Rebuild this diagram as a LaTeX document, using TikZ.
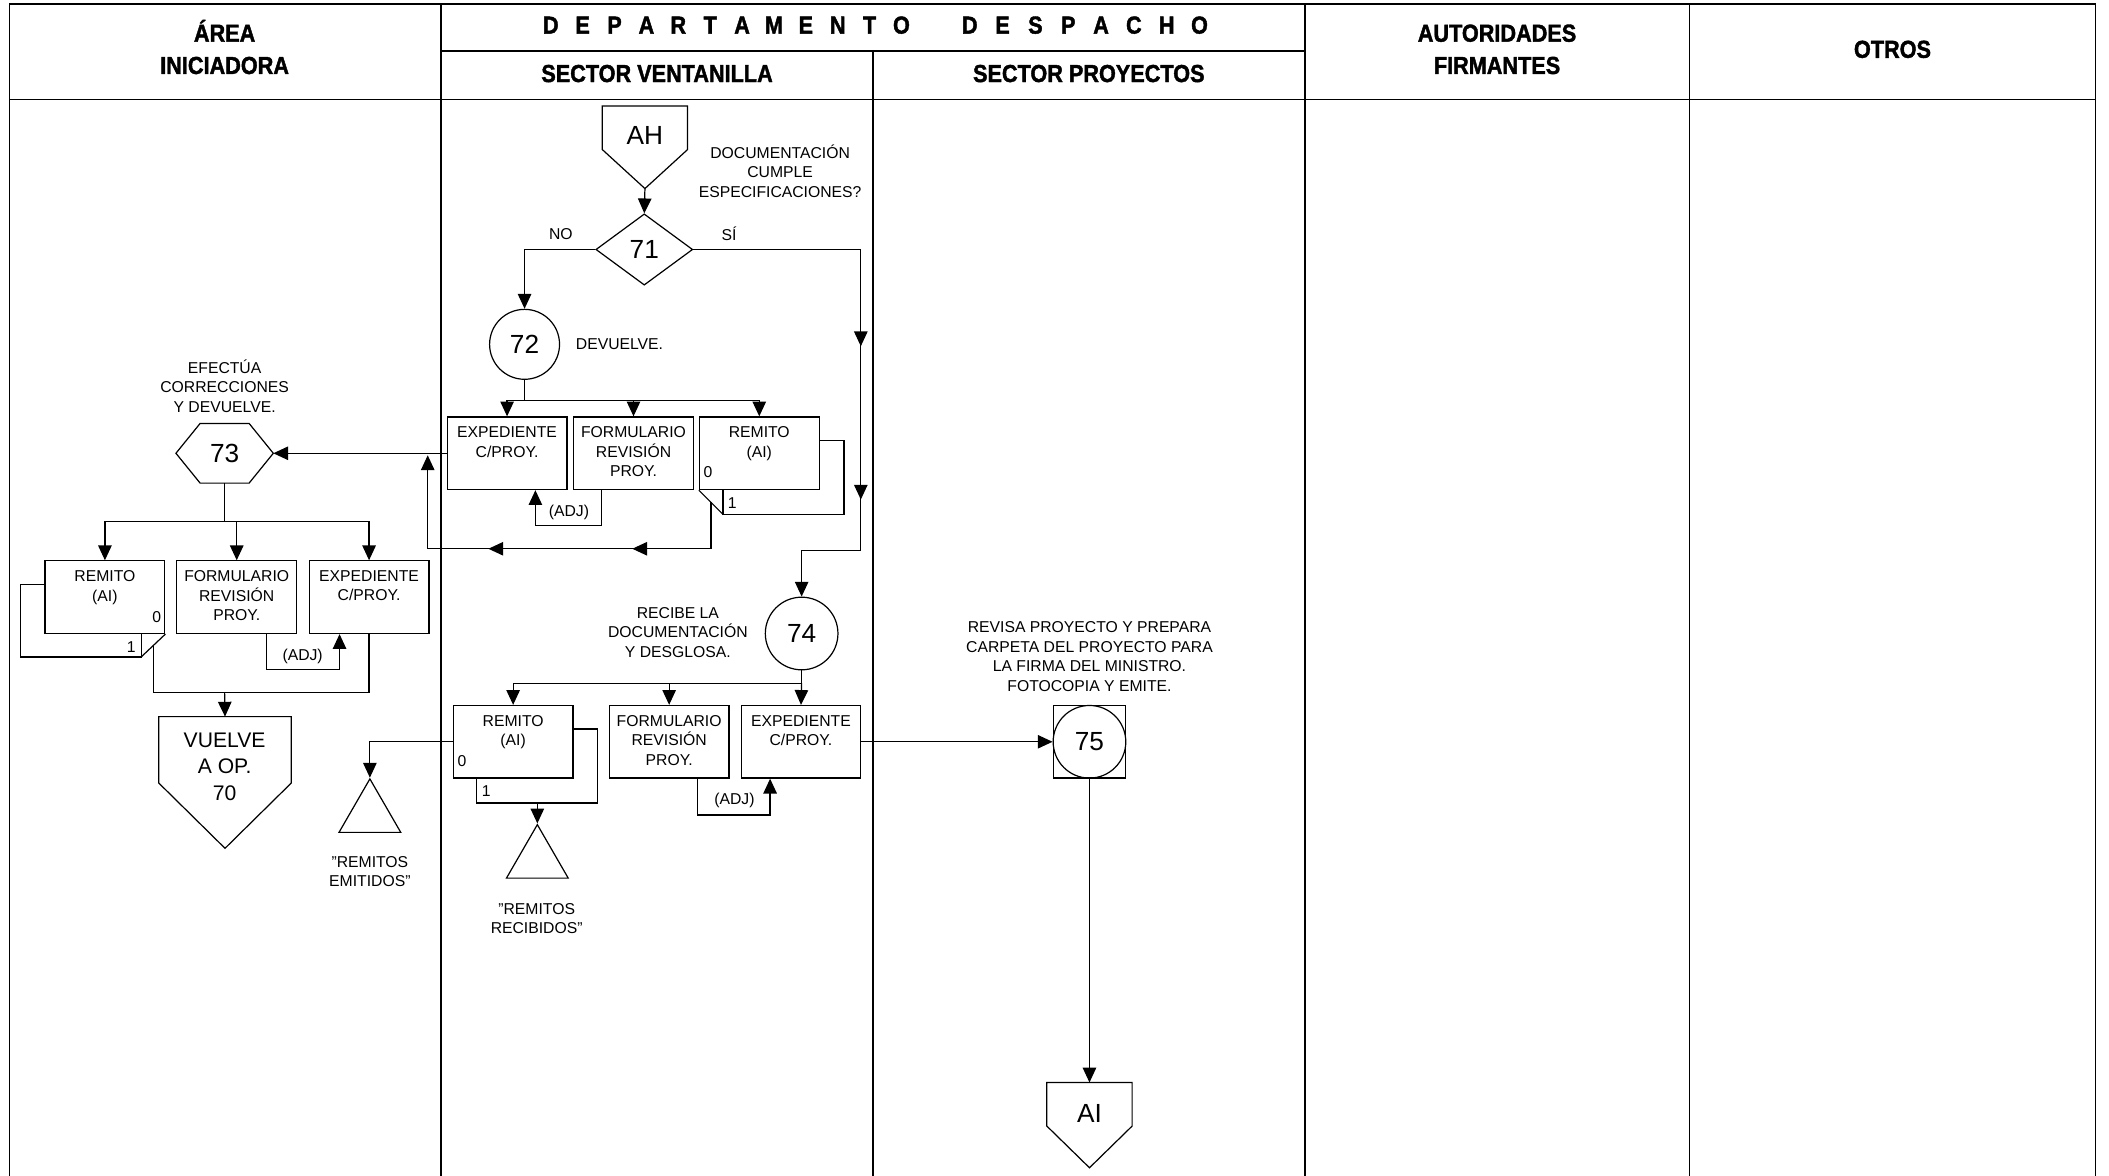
\documentclass[tikz,border=0pt]{standalone}
\usepackage{fontspec}
\setmainfont{Liberation Sans}
\newfontfamily\hdrfont[FakeStretch=0.88,FakeBold=1.6]{Liberation Sans}
\usetikzlibrary{arrows.meta,shapes.geometric,decorations.markings,calc}
\begin{document}
\begin{tikzpicture}[x=1pt,y=-1pt,
  ln/.style={line width=0.9pt},
  arr/.style={ln,-{Triangle[length=11pt,width=10pt]}},
  frm/.style={line width=1.2pt},
  docbox/.style={draw,ln,rectangle,minimum width=89pt,minimum height=54pt,inner sep=0pt},
  txt/.style={font=\fontsize{11.7}{14.5}\selectfont,align=center,inner sep=0pt},
  big/.style={font=\fontsize{19.5}{22}\selectfont},
  mid/.style={font=\fontsize{15.7}{19.5}\selectfont,align=center,inner sep=0pt},
  hdr/.style={font=\hdrfont\bfseries\fontsize{18.3}{24}\selectfont,inner sep=0pt,anchor=base},
  hole/.style={inner sep=0pt},
  midarr/.style 2 args={postaction={decorate},decoration={markings,
     mark=at position #1 with {\arrow{Triangle[length=11pt,width=10pt]}},
     mark=at position #2 with {\arrow{Triangle[length=11pt,width=10pt]}}}},
]
\useasboundingbox (0,0) rectangle (1568,874);
% ---------- frame ----------
\draw[frm] (7,874) -- (7,3) -- (1558,3) -- (1558,874);
\draw[frm] (7,74) -- (1558,74);
\draw[frm] (328,3) -- (328,874);
\draw[frm] (970,3) -- (970,874);
\draw[frm] (1256,3) -- (1256,874);
\draw[frm] (328,38) -- (970,38);
\draw[frm] (649,38) -- (649,874);
% ---------- header ----------
\node[hdr] (hA1) at (167,31) {ÁREA};
\node[hdr] (hA2) at (167,55) {INICIADORA};
\foreach \ch [count=\i from 0] in {D,E,P,A,R,T,A,M,E,N,T,O}
  \node[hdr] (tA\i) at (409.5+23.7*\i,25) {\ch};
\foreach \ch [count=\i from 0] in {D,E,S,P,A,C,H,O}
  \node[hdr] (tB\i) at (721+24.4*\i,25) {\ch};
\node[hdr] (hV) at (488.5,61) {SECTOR VENTANILLA};
\node[hdr] (hP) at (809.5,61) {SECTOR PROYECTOS};
\node[hdr] (hF1) at (1113,31) {AUTORIDADES};
\node[hdr] (hF2) at (1113,55) {FIRMANTES};
\node[hdr] (hO) at (1407,43) {OTROS};
% ---------- AH ----------
\node[hole,minimum width=63pt,minimum height=32pt] (ah) at (479.5,95) {};
\draw[ln] (ah.south west) -- (ah.north west) -- (ah.north east) -- (ah.south east)
   -- ($(ah.south)+(0,29)$) coordinate (ahtip) -- cycle;
\node[big,inner sep=0pt] (aht) at (479.5,101) {AH};
% ---------- 71 ----------
\node[draw,ln,diamond,minimum width=72pt,minimum height=53pt,inner sep=0pt,big] (d71) at (479,185.5) {71};
\draw[arr] (ahtip) -- (d71.north);
\node[txt] (q71) at (580,127) {DOCUMENTACIÓN\\CUMPLE\\ESPECIFICACIONES?};
\node[txt] (no) at (417,174) {NO};
\node[txt] (si) at (542,174) {SÍ};
% ---------- 72 ----------
\node[draw,ln,circle,minimum size=52pt,inner sep=0pt,big] (c72) at (390,256) {72};
\draw[arr] (d71.west) -| (c72.north);
\node[txt,anchor=west] (dev) at (428,256) {DEVUELVE.};
% row 1 boxes
\node[docbox] (e1) at (377,337) {};
\node[docbox] (f1) at (471,337) {};
\node[docbox] (r1) at (564.5,337) {};
\node[txt,anchor=north] (e1t) at ($(e1.north)+(0,7.5)$) {EXPEDIENTE\\C/PROY.};
\node[txt,anchor=north] (f1t) at ($(f1.north)+(0,7.5)$) {FORMULARIO\\REVISIÓN\\PROY.};
\node[txt,anchor=north] (r1t) at ($(r1.north)+(0,7.5)$) {REMITO\\(AI)};
\coordinate (b1) at (390,298);
\draw[ln] (c72.south) -- (b1);
\draw[arr] (b1) -| (e1.north);
\draw[arr] (b1) -| (f1.north);
\draw[arr] (b1) -| (r1.north);
\draw[ln] ($(r1.north east)+(0,18)$) -| ($(r1.south east)+(18,18)$) -| ($(r1.south west)+(18,0)$);
\draw[ln] (r1.south west) -- ($(r1.south west)+(18,18)$);
\node[txt,anchor=west] (r1z) at (523,351) {0};
\node[txt,anchor=west] (r1o) at (541,374) {1};
\draw[arr] ($(f1.south west)+(21,0)$) -- ++(0,26.5) -| ($(e1.south west)+(66,0)$);
\node[txt] (adj1) at (423,381) {(ADJ)};
% ---------- 73 ----------
\node[hole,minimum width=72pt,minimum height=44pt,big] (h73) at (167,337) {73};
\draw[ln] (h73.west) -- ($(h73.north west)+(18,0)$) -- ($(h73.north east)+(-18,0)$) -- (h73.east)
   -- ($(h73.south east)+(-18,0)$) -- ($(h73.south west)+(18,0)$) -- cycle;
\node[txt] (q73) at (167,287) {EFECTÚA\\CORRECCIONES\\Y DEVUELVE.};
\draw[arr] (e1.west) -- (h73.east);
\coordinate (j73) at (318,338.5);
\draw[ln,midarr={93pt}{200pt},-{Triangle[length=11pt,width=10pt]}] ($(r1.south west)+(9,9)$) |- (318,408) -- (j73);
% row 3 boxes
\node[docbox] (r3) at (78,444) {};
\node[docbox] (f3) at (176,444) {};
\node[docbox] (e3) at (274.4,444) {};
\node[txt,anchor=north] (r3t) at ($(r3.north)+(0,7.5)$) {REMITO\\(AI)};
\node[txt,anchor=north] (f3t) at ($(f3.north)+(0,7.5)$) {FORMULARIO\\REVISIÓN\\PROY.};
\node[txt,anchor=north] (e3t) at ($(e3.north)+(0,7.5)$) {EXPEDIENTE\\C/PROY.};
\coordinate (b3) at (167,388);
\draw[ln] (h73.south) -- (b3);
\draw[arr] (b3) -| (r3.north);
\draw[arr] (b3) -| (f3.north);
\draw[arr] (b3) -| (e3.north);
\draw[ln] ($(r3.north west)+(0,18)$) -| ($(r3.south west)+(-18,17)$) -| ($(r3.south east)+(-18,0)$);
\draw[ln] (r3.south east) -- ($(r3.south east)+(-18,17)$);
\node[txt,anchor=east] (r3z) at (120,459) {0};
\node[txt,anchor=east] (r3o) at (101,481) {1};
\draw[arr] ($(f3.south west)+(67,0)$) -- ++(0,26.6) -| ($(e3.south west)+(23,0)$);
\node[txt] (adj3) at (225,488) {(ADJ)};
\coordinate (m3) at (167,515);
\draw[ln] ($(r3.south east)+(-9,8.5)$) |- (m3) -| (e3.south);
% VUELVE
\node[hole,minimum width=98pt,minimum height=49pt] (v70) at (167.3,557.5) {};
\draw[ln] (v70.south west) -- (v70.north west) -- (v70.north east) -- (v70.south east)
   -- ($(v70.south)+(0,48.5)$) -- cycle;
\node[mid] (v70t) at (167,570) {VUELVE\\A OP.\\70};
\draw[arr] (m3) -- (v70.north);
% ---------- 74 ----------
\node[draw,ln,circle,minimum size=54pt,inner sep=0pt,big] (c74) at (596,471) {74};
\draw[arr,midarr={196.5pt}{310.5pt}] (d71.east) -| (640,409) -| (c74.north);
\node[txt] (q74) at (504,470) {RECIBE LA\\DOCUMENTACIÓN\\Y DESGLOSA.};
% row 2 boxes
\node[docbox] (r2) at (381.5,551.5) {};
\node[docbox] (f2) at (497.5,551.5) {};
\node[docbox] (e2) at (595.5,551.5) {};
\node[txt,anchor=north] (r2t) at ($(r2.north)+(0,7.5)$) {REMITO\\(AI)};
\node[txt,anchor=north] (f2t) at ($(f2.north)+(0,7.5)$) {FORMULARIO\\REVISIÓN\\PROY.};
\node[txt,anchor=north] (e2t) at ($(e2.north)+(0,7.5)$) {EXPEDIENTE\\C/PROY.};
\coordinate (b2) at (596,508);
\draw[ln] (c74.south) -- (b2);
\draw[arr] (b2) -| (r2.north);
\draw[arr] (b2) -| (f2.north);
\draw[arr] (b2) -- (e2.north);
\draw[ln] ($(r2.north east)+(0,18)$) -| ($(r2.south east)+(18,18)$) -| ($(r2.south west)+(18,0)$);
\node[txt,anchor=west] (r2z) at (340,566) {0};
\node[txt,anchor=west] (r2o) at (358,588) {1};
\draw[arr] ($(f2.south west)+(66,0)$) -- ++(0,27) -| ($(e2.south west)+(22,0)$);
\node[txt] (adj2) at (546,595) {(ADJ)};
% triangles
\node[draw,ln,regular polygon,regular polygon sides=3,minimum size=53pt,inner sep=0pt] (t1) at (275,605.6) {};
\node[draw,ln,regular polygon,regular polygon sides=3,minimum size=53pt,inner sep=0pt] (t2) at (399.5,639.6) {};
\draw[arr] (r2.west) -| (t1.corner 1);
\draw[arr] ($(r2.south)+(18,18)$) -- (t2.corner 1);
\node[txt] (t1l) at (275,648) {"REMITOS\\EMITIDOS"};
\node[txt] (t2l) at (399,683) {"REMITOS\\RECIBIDOS"};
% ---------- 75 ----------
\node[draw,ln,minimum size=54pt,inner sep=0pt] (s75) at (810,551.5) {};
\node[draw,ln,circle,minimum size=54pt,inner sep=0pt,big] (c75) at (810,551.5) {75};
\draw[arr] (e2.east) -- (c75.west);
\node[txt] (q75) at (810,488) {REVISA PROYECTO Y PREPARA\\CARPETA DEL PROYECTO PARA\\LA FIRMA DEL MINISTRO.\\FOTOCOPIA Y EMITE.};
% AI
\node[hole,minimum width=63pt,minimum height=32pt] (ai) at (810,821) {};
\draw[ln] (ai.south west) -- (ai.north west) -- (ai.north east) -- (ai.south east)
   -- ($(ai.south)+(0,31)$) -- cycle;
\node[big,inner sep=0pt] (ait) at (810,828) {AI};
\draw[arr] (c75.south) -- (ai.north);
\end{tikzpicture}
\end{document}
